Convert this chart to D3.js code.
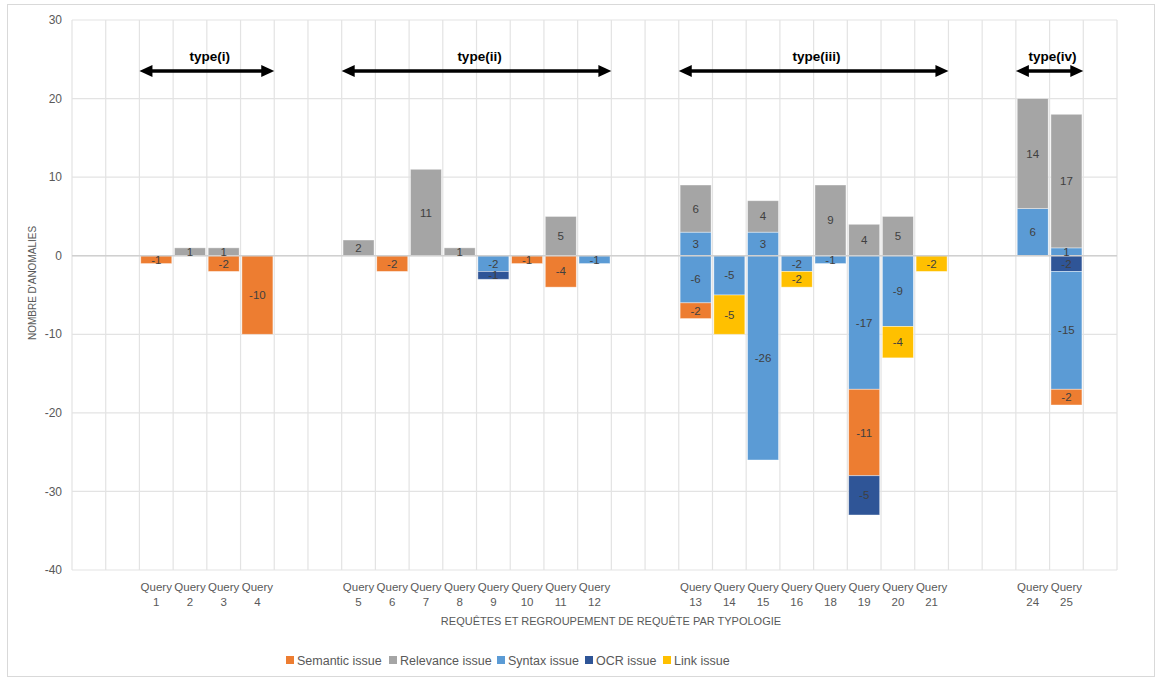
<!DOCTYPE html>
<html>
<head>
<meta charset="utf-8">
<script src="https://cdn.jsdelivr.net/npm/d3@7"></script>
<style>
  body { margin: 0; background: #fff; }
  text { font-family: "Liberation Sans", Arial, sans-serif; }
</style>
</head>
<body>
<script>
// queries, grouped by typology
var queries = ["1", "2", "3", "4",
               "5", "6", "7", "8", "9", "10", "11", "12",
               "13", "14", "15", "16", "18", "19", "20", "21",
               "24", "25"];
var queryGroup = [0, 0, 0, 0,
                  1, 1, 1, 1, 1, 1, 1, 1,
                  2, 2, 2, 2, 2, 2, 2, 2,
                  3, 3];
var groupNames = ["type(i)", "type(ii)", "type(iii)", "type(iv)"];

// series values (one per query)
var semantic   = [-1, 0, -2, -10,  0, -2, 0, 0, 0, -1, -4, 0,  -2, 0, 0, 0, 0, -11, 0, 0,  0, -2];
var relevance  = [0, 1, 1, 0,      2, 0, 11, 1, 0, 0, 5, 0,    6, 0, 4, 0, 9, 4, 5, 0,      14, 17];
var syntaxPos  = [0, 0, 0, 0,      0, 0, 0, 0, 0, 0, 0, 0,     3, 0, 3, 0, 0, 0, 0, 0,      6, 1];
var syntaxNeg  = [0, 0, 0, 0,      0, 0, 0, 0, -2, 0, 0, -1,   -6, -5, -26, -2, -1, -17, -9, 0,  0, -15];
var ocrFirst   = [0, 0, 0, 0,      0, 0, 0, 0, 0, 0, 0, 0,     0, 0, 0, 0, 0, 0, 0, 0,      0, -2];
var ocr        = [0, 0, 0, 0,      0, 0, 0, 0, -1, 0, 0, 0,    0, 0, 0, 0, 0, -5, 0, 0,     0, 0];
var link       = [0, 0, 0, 0,      0, 0, 0, 0, 0, 0, 0, 0,     0, -5, 0, -2, 0, 0, -4, -2,  0, 0];

var yTicks = [30, 20, 10, 0, -10, -20, -30, -40];

var legendNames = ["Semantic issue", "Relevance issue", "Syntax issue", "OCR issue", "Link issue"];
var colors = {
  "Semantic issue": "#ED7D31",
  "Relevance issue": "#A5A5A5",
  "Syntax issue": "#5B9BD5",
  "OCR issue": "#2F5597",
  "Link issue": "#FFC000"
};

// stacking order as in the sheet
var seriesKeys = ["syntaxPos", "relevance", "ocrFirst", "syntaxNeg", "semantic", "ocr", "link"];
var seriesData = { syntaxPos: syntaxPos, relevance: relevance, ocrFirst: ocrFirst,
                   syntaxNeg: syntaxNeg, semantic: semantic, ocr: ocr, link: link };
var seriesLegend = { syntaxPos: "Syntax issue", relevance: "Relevance issue", ocrFirst: "OCR issue",
                     syntaxNeg: "Syntax issue", semantic: "Semantic issue", ocr: "OCR issue", link: "Link issue" };

var W = 1161, H = 681;
var margin = { left: 72, right: 44, top: 20, bottom: 111 };

var svg = d3.select("body").append("svg")
  .attr("width", W)
  .attr("height", H);

// outer chart frame
svg.append("rect")
  .attr("x", 7.5).attr("y", 4.5)
  .attr("width", 1147).attr("height", 672)
  .attr("fill", "none")
  .attr("stroke", "#d9d9d9");

// category slots: two empty slots before each group, one at the end
var slots = [];
queries.forEach(function (q, i) {
  if (i === 0 || queryGroup[i] !== queryGroup[i - 1]) {
    slots.push("_a" + queryGroup[i]);
    slots.push("_b" + queryGroup[i]);
  }
  slots.push(q);
});
slots.push("_end");

var x = d3.scaleBand()
  .domain(slots)
  .range([margin.left, W - margin.right])
  .paddingInner(0.08)
  .paddingOuter(0.04);

var step = x.step();
var x0 = margin.left;

var y = d3.scaleLinear()
  .domain([-40, 30])
  .range([H - margin.bottom, margin.top]);

// horizontal gridlines
svg.append("g").selectAll("line")
  .data(yTicks)
  .join("line")
  .attr("x1", x0).attr("x2", x0 + step * slots.length)
  .attr("y1", function (d) { return y(d); })
  .attr("y2", function (d) { return y(d); })
  .attr("stroke", "#e3e3e3")
  .attr("stroke-width", 1.2);

// vertical gridlines between categories
svg.append("g").selectAll("line")
  .data(d3.range(slots.length + 1))
  .join("line")
  .attr("x1", function (i) { return x0 + i * step; })
  .attr("x2", function (i) { return x0 + i * step; })
  .attr("y1", y(30)).attr("y2", y(-40))
  .attr("stroke", "#e3e3e3")
  .attr("stroke-width", 1.2);

// y tick labels
svg.append("g").selectAll("text")
  .data(yTicks)
  .join("text")
  .attr("x", 62)
  .attr("y", function (d) { return y(d); })
  .attr("dy", "0.35em")
  .attr("text-anchor", "end")
  .attr("font-size", 12)
  .attr("fill", "#595959")
  .text(function (d) { return d; });

// stacked data
var table = queries.map(function (q, i) {
  var row = { query: q };
  seriesKeys.forEach(function (k) { row[k] = seriesData[k][i]; });
  return row;
});

var stacked = d3.stack()
  .keys(seriesKeys)
  .offset(d3.stackOffsetDiverging)(table);

var layers = svg.append("g").selectAll("g")
  .data(stacked)
  .join("g")
  .attr("fill", function (s) { return colors[seriesLegend[s.key]]; });

layers.selectAll("rect")
  .data(function (s) { return s.filter(function (d) { return d[1] - d[0] !== 0; }); })
  .join("rect")
  .attr("x", function (d) { return x(d.data.query); })
  .attr("width", x.bandwidth())
  .attr("y", function (d) { return y(Math.max(d[0], d[1])); })
  .attr("height", function (d) { return Math.abs(y(d[0]) - y(d[1])); })
  .attr("stroke", "#ffffff")
  .attr("stroke-opacity", 0.5)
  .attr("stroke-width", 0.8);

// zero axis line
svg.append("line")
  .attr("x1", x0).attr("x2", x0 + step * slots.length)
  .attr("y1", y(0)).attr("y2", y(0))
  .attr("stroke", "#d0d0d0")
  .attr("stroke-width", 1.5);

// segment value labels
stacked.forEach(function (s) {
  svg.append("g").selectAll("text")
    .data(s.filter(function (d) { return d[1] - d[0] !== 0; }))
    .join("text")
    .attr("x", function (d) { return x(d.data.query) + x.bandwidth() / 2; })
    .attr("y", function (d) { return y((d[0] + d[1]) / 2); })
    .attr("dy", "0.35em")
    .attr("text-anchor", "middle")
    .attr("font-size", 11.5)
    .attr("fill", "#404040")
    .text(function (d) { return d.data[s.key]; });
});

// x tick labels
var xl = svg.append("g").selectAll("text")
  .data(queries)
  .join("text")
  .attr("text-anchor", "middle")
  .attr("font-size", 11.5)
  .attr("fill", "#595959");
xl.append("tspan")
  .attr("x", function (q) { return x(q) + x.bandwidth() / 2; })
  .attr("y", 591)
  .text("Query");
xl.append("tspan")
  .attr("x", function (q) { return x(q) + x.bandwidth() / 2; })
  .attr("y", 606)
  .text(function (q) { return q; });

// axis titles
svg.append("text")
  .attr("x", 611).attr("y", 625)
  .attr("text-anchor", "middle")
  .attr("font-size", 11)
  .attr("fill", "#595959")
  .text("REQUÊTES ET REGROUPEMENT DE REQUÊTE PAR TYPOLOGIE");

svg.append("text")
  .attr("transform", "translate(36,283) rotate(-90)")
  .attr("text-anchor", "middle")
  .attr("font-size", 10)
  .attr("fill", "#595959")
  .text("NOMBRE D'ANOMALIES");

// typology arrows
var arrowY = 71;
groupNames.forEach(function (name, g) {
  var members = queries.filter(function (q, i) { return queryGroup[i] === g; });
  var xa = x(members[0]) - step * 0.04;
  var xb = x(members[members.length - 1]) + x.bandwidth() + step * 0.04;
  var head = 13, half = 6;
  svg.append("line")
    .attr("x1", xa + head - 2).attr("x2", xb - head + 2)
    .attr("y1", arrowY).attr("y2", arrowY)
    .attr("stroke", "#000")
    .attr("stroke-width", 3.5);
  svg.append("path")
    .attr("d", "M" + xa + "," + arrowY + "L" + (xa + head) + "," + (arrowY - half) + "L" + (xa + head) + "," + (arrowY + half) + "Z")
    .attr("fill", "#000");
  svg.append("path")
    .attr("d", "M" + xb + "," + arrowY + "L" + (xb - head) + "," + (arrowY - half) + "L" + (xb - head) + "," + (arrowY + half) + "Z")
    .attr("fill", "#000");
  svg.append("text")
    .attr("x", (xa + xb) / 2 + 3)
    .attr("y", 61)
    .attr("text-anchor", "middle")
    .attr("font-size", 13.5)
    .attr("font-weight", "bold")
    .attr("fill", "#000")
    .text(name);
});

// legend
var legendX = [286, 389, 497, 585, 663];
var lg = svg.append("g").selectAll("g")
  .data(legendNames)
  .join("g")
  .attr("transform", function (d, i) { return "translate(" + legendX[i] + ",661)"; });
lg.append("rect")
  .attr("x", 0).attr("y", -5)
  .attr("width", 8).attr("height", 8)
  .attr("fill", function (d) { return colors[d]; });
lg.append("text")
  .attr("x", 11).attr("y", 0)
  .attr("dy", "0.35em")
  .attr("font-size", 12.5)
  .attr("fill", "#595959")
  .text(function (d) { return d; });
</script>
</body>
</html>
